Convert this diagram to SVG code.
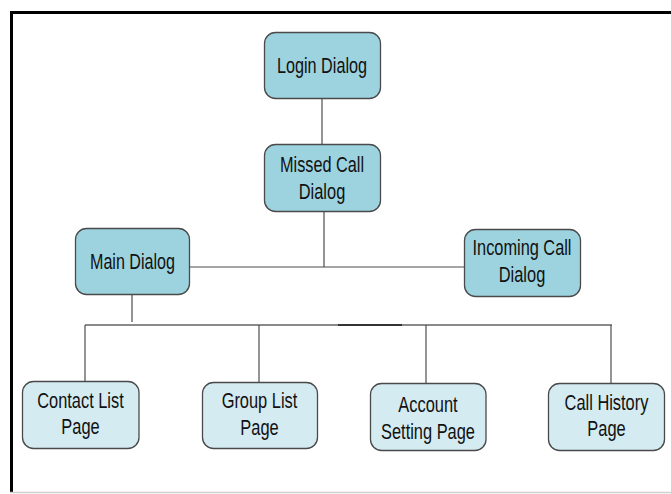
<svg xmlns="http://www.w3.org/2000/svg" width="671" height="494" viewBox="0 0 671 494">
<style>
.dark{fill:#9dd3df;stroke:#4a4a4a;stroke-width:1.3}
.light{fill:#d4ebf2;stroke:#4a4a4a;stroke-width:1.3}
text{font-family:"Liberation Sans Narrow","Liberation Sans",Arial,sans-serif;font-size:21.5px;fill:#111;text-anchor:middle}
.c{stroke:#4d4d4d;stroke-width:1.2;fill:none}
.bus{stroke:#8a8a8a;stroke-width:2.2;fill:none}
</style>
<rect x="0" y="0" width="671" height="494" fill="#ffffff"/>
<g id="frame">
<path d="M11.5 493 V12.5 H671" fill="none" stroke="#000" stroke-width="3"/>
<line x1="10" y1="492.5" x2="671" y2="492.5" stroke="#cfcfcf" stroke-width="1.5"/>
</g>
<g id="connectors">
<line class="c" x1="322" y1="98" x2="322" y2="144"/>
<line class="c" x1="324" y1="212" x2="324" y2="267"/>
<line class="c" x1="189" y1="267" x2="464" y2="267"/>
<line class="c" x1="132" y1="294" x2="132" y2="322"/>
<line class="bus" x1="85" y1="325" x2="612" y2="325"/>
<line x1="338" y1="325" x2="402" y2="325" stroke="#333" stroke-width="2.2"/>
<line class="c" x1="85" y1="325" x2="85" y2="381"/>
<line class="c" x1="259" y1="325" x2="259" y2="382"/>
<line class="c" x1="426" y1="325" x2="426" y2="383"/>
<line class="c" x1="611" y1="325" x2="611" y2="383"/>
</g>
<g id="login-dialog">
<rect class="dark" x="264.5" y="32.5" width="116" height="66" rx="11"/>
<text x="322" y="73" textLength="90" lengthAdjust="spacingAndGlyphs">Login Dialog</text>
</g>
<g id="missed-call-dialog">
<rect class="dark" x="264.5" y="144.5" width="116" height="67" rx="11"/>
<text x="322" y="172" textLength="84" lengthAdjust="spacingAndGlyphs">Missed Call</text>
<text x="322" y="198.5" textLength="46.5" lengthAdjust="spacingAndGlyphs">Dialog</text>
</g>
<g id="main-dialog">
<rect class="dark" x="75.5" y="228.5" width="114" height="66" rx="11"/>
<text x="132.5" y="269" textLength="85" lengthAdjust="spacingAndGlyphs">Main Dialog</text>
</g>
<g id="incoming-call-dialog">
<rect class="dark" x="464.5" y="229.5" width="116" height="67" rx="11"/>
<text x="522" y="254.5" textLength="99" lengthAdjust="spacingAndGlyphs">Incoming Call</text>
<text x="522" y="281.5" textLength="46.5" lengthAdjust="spacingAndGlyphs">Dialog</text>
</g>
<g id="contact-list-page">
<rect class="light" x="22.5" y="381.5" width="116.5" height="67" rx="11"/>
<text x="80.5" y="407.5" textLength="86.5" lengthAdjust="spacingAndGlyphs">Contact List</text>
<text x="80.5" y="434" textLength="38.3" lengthAdjust="spacingAndGlyphs">Page</text>
</g>
<g id="group-list-page">
<rect class="light" x="202.5" y="382.5" width="115" height="66" rx="11"/>
<text x="259.5" y="408" textLength="75.7" lengthAdjust="spacingAndGlyphs">Group List</text>
<text x="259.5" y="434.5" textLength="38.3" lengthAdjust="spacingAndGlyphs">Page</text>
</g>
<g id="account-setting-page">
<rect class="light" x="370.5" y="383.5" width="115.5" height="67" rx="11"/>
<text x="428" y="411.5" textLength="59.3" lengthAdjust="spacingAndGlyphs">Account</text>
<text x="428" y="438.5" textLength="93.9" lengthAdjust="spacingAndGlyphs">Setting Page</text>
</g>
<g id="call-history-page">
<rect class="light" x="548.5" y="383.5" width="116" height="67" rx="11"/>
<text x="606.5" y="410" textLength="83.8" lengthAdjust="spacingAndGlyphs">Call History</text>
<text x="606.5" y="436" textLength="38.3" lengthAdjust="spacingAndGlyphs">Page</text>
</g>
</svg>
